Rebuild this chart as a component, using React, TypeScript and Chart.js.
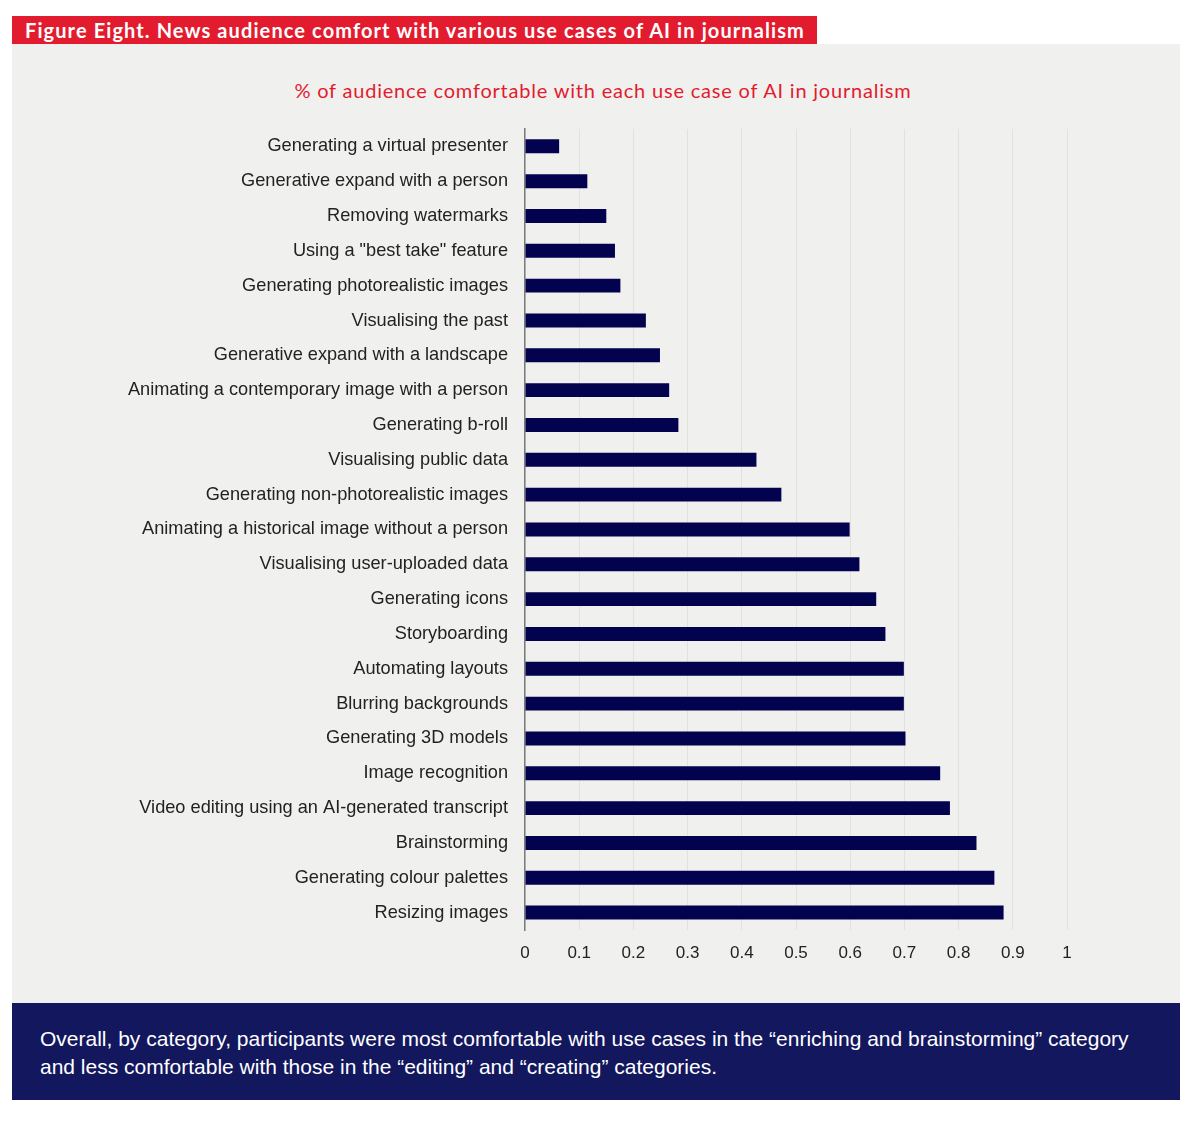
import { useEffect, useRef } from 'react'
import { Chart, ChartConfiguration, registerables } from 'chart.js'

Chart.register(...registerables)

const useCases = [
  'Generating a virtual presenter',
  'Generative expand with a person',
  'Removing watermarks',
  'Using a "best take" feature',
  'Generating photorealistic images',
  'Visualising the past',
  'Generative expand with a landscape',
  'Animating a contemporary image with a person',
  'Generating b-roll',
  'Visualising public data',
  'Generating non-photorealistic images',
  'Animating a historical image without a person',
  'Visualising user-uploaded data',
  'Generating icons',
  'Storyboarding',
  'Automating layouts',
  'Blurring backgrounds',
  'Generating 3D models',
  'Image recognition',
  'Video editing using an AI-generated transcript',
  'Brainstorming',
  'Generating colour palettes',
  'Resizing images',
]

const comfortShare = [
  0.063, 0.115, 0.15, 0.166, 0.176, 0.223, 0.249, 0.266, 0.283,
  0.427, 0.473, 0.599, 0.617, 0.648, 0.665, 0.699, 0.699, 0.702,
  0.766, 0.784, 0.833, 0.866, 0.883,
]

const xTicks = [0, 0.1, 0.2, 0.3, 0.4, 0.5, 0.6, 0.7, 0.8, 0.9, 1]

const RED = '#e31b2e'
const NAVY = '#13175e'
const PANEL = '#f0f1ef'

export default function App() {
  const canvasRef = useRef<HTMLCanvasElement>(null)
  const chartRef = useRef<Chart | null>(null)

  useEffect(() => {
    document.body.style.margin = '0'
    const ctx = canvasRef.current?.getContext('2d')
    if (!ctx) return

    const config: ChartConfiguration = {
      type: 'bar',
      data: {
        labels: useCases,
        datasets: [{
          data: comfortShare,
          backgroundColor: '#02024f',
          borderWidth: 0,
          barPercentage: 0.4,
          categoryPercentage: 1,
        }],
      },
      options: {
        indexAxis: 'y',
        animation: false,
        responsive: false,
        maintainAspectRatio: false,
        layout: { padding: { top: 0, right: 113, bottom: 0, left: 0 } },
        plugins: {
          legend: { display: false },
          tooltip: { enabled: false },
        },
        scales: {
          x: {
            min: 0,
            max: 1,
            afterBuildTicks: (scale: any) => {
              scale.ticks = xTicks.map(v => ({ value: v }))
            },
            grid: { color: '#e1e2e0', lineWidth: 1, drawTicks: false },
            border: { display: false },
            ticks: {
              color: '#222',
              padding: 13,
              font: { family: 'Liberation Sans', size: 17 },
              callback: (v: any) => String(Number(v)),
            },
            afterFit: (scale: any) => { scale.height = 60 },
          },
          y: {
            grid: { display: false, drawTicks: false },
            border: { display: true, color: '#7b7b7b', width: 1.5 },
            ticks: {
              color: '#222',
              padding: 17,
              autoSkip: false,
              font: { family: 'Liberation Sans', size: 18.2 },
            },
            afterFit: (scale: any) => { scale.width = 513 },
          },
        },
      },
    }

    chartRef.current = new Chart(ctx, config)
    return () => {
      chartRef.current?.destroy()
      chartRef.current = null
    }
  }, [])

  return (
    <div style={{ position: 'relative', width: 1200, height: 1128, background: '#fff', fontFamily: 'Liberation Sans' }}>
      <div style={{
        position: 'absolute', left: 12, top: 16, width: 805, height: 28, background: RED,
        color: '#fff', fontFamily: 'Lato', fontWeight: 700, fontSize: 20, lineHeight: '28px',
        letterSpacing: '1.1px', paddingLeft: 13, boxSizing: 'border-box', whiteSpace: 'nowrap',
      }}>
        Figure Eight. News audience comfort with various use cases of AI in journalism
      </div>
      <div style={{ position: 'absolute', left: 12, top: 44, width: 1168, height: 959, background: PANEL }}>
        <div style={{
          position: 'absolute', left: 14, right: 0, top: 34, textAlign: 'center',
          color: RED, fontFamily: 'Lato', fontSize: 20, lineHeight: '24px', letterSpacing: '0.8px',
        }}>
          % of audience comfortable with each use case of AI in journalism
        </div>
        <canvas ref={canvasRef} width={1168} height={889} style={{ position: 'absolute', left: 0, top: 57, width: 1168, height: 889 }} />
      </div>
      <div style={{
        position: 'absolute', left: 12, top: 1003, width: 1168, height: 97, background: NAVY,
        color: '#fff', fontSize: 21, lineHeight: '28px', padding: '22px 28px', boxSizing: 'border-box',
        whiteSpace: 'nowrap',
      }}>
        Overall, by category, participants were most comfortable with use cases in the “enriching and brainstorming” category
        <br />
        and less comfortable with those in the “editing” and “creating” categories.
      </div>
    </div>
  )
}
